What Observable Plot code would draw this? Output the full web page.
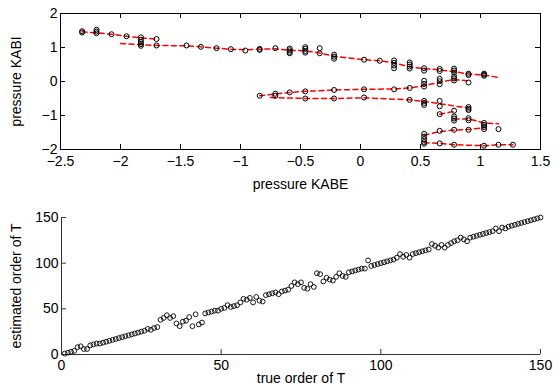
<!DOCTYPE html>
<html><head><meta charset="utf-8">
<script src="https://cdn.jsdelivr.net/npm/d3@7"></script>
<script src="https://cdn.jsdelivr.net/npm/@observablehq/plot@0.6"></script>
<style>
body{margin:0;background:#fff;}
#chart{width:553px;height:384px;overflow:hidden;}
#chart svg{display:block;}
</style>
</head><body><div id="chart"></div>
<script>
// ---------- top panel data ----------
const topXTicks = [-2.5, -2, -1.5, -1, -0.5, 0, 0.5, 1, 1.5];
const topYTicks = [-2, -1, 0, 1, 2];
const lineA = [[-2.32,1.46],[-2.20,1.43],[-2.075,1.39],[-1.95,1.33],[-1.83,1.28],[-1.70,1.25]];
const lineB = [[-2.0,1.12],[-1.83,1.08],[-1.70,1.06],[-1.45,1.05],[-1.33,1.02],[-1.20,0.98],[-1.08,0.95],[-0.96,0.93],[-0.84,0.95],[-0.71,0.96],[-0.59,0.92],[-0.46,0.90],[-0.34,0.84],[-0.22,0.74],[0.03,0.64],[0.16,0.61],[0.28,0.55],[0.41,0.43],[0.53,0.38],[0.66,0.34],[0.78,0.29],[0.90,0.22],[1.03,0.19],[1.15,0.12]];
const lineC = [[-0.84,-0.42],[-0.71,-0.37],[-0.59,-0.32],[-0.46,-0.29],[-0.22,-0.25],[0.03,-0.23],[0.28,-0.22],[0.41,-0.19],[0.53,-0.12],[0.66,-0.02],[0.78,0.06],[0.90,0.02]];
const lineD = [[-0.75,-0.47],[-0.46,-0.50],[-0.22,-0.50],[0.03,-0.48],[0.41,-0.54],[0.53,-0.59],[0.66,-0.65],[0.78,-0.72],[0.90,-0.78]];
const lineE = [[0.66,-0.96],[0.78,-0.88]];
const lineF = [[0.78,-1.10],[0.90,-1.10],[1.03,-1.22],[1.15,-1.24]];
const lineG = [[0.53,-1.58],[0.66,-1.47],[0.78,-1.43],[0.90,-1.41],[1.03,-1.36]];
const lineH = [[0.53,-1.80],[0.66,-1.82],[0.78,-1.86],[1.03,-1.89],[1.15,-1.86],[1.27,-1.86]];
const topLines = [lineA, lineB, lineC, lineD, lineE, lineF, lineG, lineH];
const topCircles = [
  [-2.32,1.48],[-2.32,1.44],
  [-2.20,1.52],[-2.20,1.47],[-2.20,1.42],
  [-2.075,1.39],[-1.95,1.33],
  [-1.83,1.30],[-1.83,1.23],[-1.83,1.16],[-1.83,1.10],[-1.83,1.05],
  [-1.70,1.25],[-1.70,1.06],
  [-1.45,1.06],[-1.33,1.02],[-1.20,0.98],[-1.08,0.95],[-0.96,0.91],
  [-0.84,0.96],[-0.84,0.93],[-0.84,-0.42],
  [-0.71,0.98],[-0.71,-0.36],[-0.71,-0.42],
  [-0.59,0.97],[-0.59,0.92],[-0.59,0.87],[-0.59,0.83],[-0.59,-0.32],
  [-0.46,1.01],[-0.46,0.96],[-0.46,0.90],[-0.46,0.85],[-0.46,-0.29],[-0.46,-0.50],
  [-0.34,0.98],[-0.34,0.83],
  [-0.22,0.79],[-0.22,0.73],[-0.22,0.67],[-0.22,-0.25],[-0.22,-0.50],
  [0.03,0.64],[0.03,-0.23],[0.03,-0.47],
  [0.16,0.61],
  [0.28,0.62],[0.28,0.55],[0.28,0.47],[0.28,0.39],[0.28,-0.23],
  [0.41,0.56],[0.41,0.50],[0.41,0.44],[0.41,0.38],[0.41,-0.19],[0.41,-0.54],
  [0.53,0.39],[0.53,0.32],[0.53,0.02],[0.53,-0.07],[0.53,-0.15],[0.53,-0.57],[0.53,-0.63],[0.53,-0.69],[0.53,-1.54],[0.53,-1.62],[0.53,-1.70],[0.53,-1.78],[0.53,-1.83],
  [0.66,0.37],[0.66,0.31],[0.66,0.08],[0.66,0.01],[0.66,-0.08],[0.66,-0.57],[0.66,-0.73],[0.66,-0.96],[0.66,-1.45],[0.66,-1.82],
  [0.78,0.38],[0.78,0.32],[0.78,0.26],[0.78,0.15],[0.78,0.09],[0.78,0.03],[0.78,-0.86],[0.78,-1.03],[0.78,-1.09],[0.78,-1.15],[0.78,-1.42],[0.78,-1.86],
  [0.90,0.23],[0.90,0.19],[0.90,-0.03],[0.90,-0.75],[0.90,-0.80],[0.90,-0.84],[0.90,-1.08],[0.90,-1.14],[0.90,-1.42],
  [1.03,0.23],[1.03,0.20],[1.03,0.17],[1.03,-1.22],[1.03,-1.28],[1.03,-1.34],[1.03,-1.40],[1.03,-1.89],
  [1.15,-1.40],[1.15,-1.86],
  [1.27,-1.86]
];

// ---------- bottom panel data ----------
const botTicks = [0, 50, 100, 150];
const estOrder = [
  1,2,3,4,8,9,6,6,10,11,
  12,12,13,14,15,16,17,18,19,20,
  21,22,23,24,25,26,28,27,29,30,
  38,40,43,40,42,34,31,36,37,41,
  31,44,33,35,45,46,47,48,48,50,
  51,54,52,53,54,57,61,60,62,57,
  63,59,58,65,66,67,68,66,69,70,
  71,75,79,77,79,73,72,77,74,89,
  88,80,84,82,81,85,89,86,85,90,
  91,92,93,94,94,103,97,98,99,100,
  101,102,103,104,106,110,107,109,106,110,
  111,112,113,114,115,121,119,117,120,117,
  120,122,124,125,128,126,124,128,129,130,
  131,132,133,134,135,138,135,139,138,140,
  141,142,143,144,145,146,147,148,149,150
];
const botPoints = estOrder.map((v, i) => ({t: i + 1, e: v}));

const font = {fontFamily: "'Liberation Sans', Arial, Helvetica, sans-serif", fontSize: "14px", background: "#fff", color: "#000"};
const fmt = d3.format("");

const topW = 553, topH = 192;
const tML = 60, tMR = 13, tMT = 13, tMB = 43;
const tFW = topW - tML - tMR, tFH = topH - tMT - tMB;
const tickLen = 5;

const topPlot = Plot.plot({
  width: topW, height: topH,
  marginLeft: tML, marginRight: tMR, marginTop: tMT, marginBottom: tMB,
  style: font,
  x: {domain: [-2.5, 1.5]},
  y: {domain: [-2, 2]},
  marks: [
    Plot.axisX({ticks: topXTicks, tickSize: 0, tickPadding: 7, tickFormat: fmt, label: null}),
    Plot.axisY({ticks: topYTicks, tickSize: 0, tickPadding: 3, tickFormat: fmt, label: null}),
    Plot.tickX(topXTicks, {x: d => d, insetTop: tFH - tickLen, stroke: "#000"}),
    Plot.tickX(topXTicks, {x: d => d, insetBottom: tFH - tickLen, stroke: "#000"}),
    Plot.tickY(topYTicks, {y: d => d, insetRight: tFW - tickLen, stroke: "#000"}),
    Plot.tickY(topYTicks, {y: d => d, insetLeft: tFW - tickLen, stroke: "#000"}),
    ...topLines.map(l => Plot.line(l, {x: d => d[0], y: d => d[1], stroke: "#ff0000", strokeWidth: 1.5, strokeDasharray: "5,3.5"})),
    Plot.dot(topCircles, {x: d => d[0], y: d => d[1], r: 2.5, stroke: "#000", strokeWidth: 1, fill: "none"}),
    Plot.frame({stroke: "#000", strokeWidth: 1}),
    Plot.text(["pressure KABE"], {frameAnchor: "bottom", dy: 35.5, lineAnchor: "middle", textAnchor: "middle", text: d => d}),
    Plot.text(["pressure KABI"], {frameAnchor: "left", dx: -44, rotate: -90, lineAnchor: "middle", textAnchor: "middle", text: d => d})
  ]
});

const botW = 553, botH = 192;
const bML = 61, bMR = 13, bMT = 25, bMB = 30;
const bFW = botW - bML - bMR, bFH = botH - bMT - bMB;

const botPlot = Plot.plot({
  width: botW, height: botH,
  marginLeft: bML, marginRight: bMR, marginTop: bMT, marginBottom: bMB,
  style: font,
  x: {domain: [0, 150]},
  y: {domain: [0, 150]},
  marks: [
    Plot.axisX({ticks: botTicks, tickSize: 0, tickPadding: 6, tickFormat: fmt, label: null}),
    Plot.axisY({ticks: botTicks, tickSize: 0, tickPadding: 3, tickFormat: fmt, label: null}),
    Plot.tickX(botTicks, {x: d => d, insetTop: bFH - tickLen, stroke: "#333"}),
    Plot.tickY(botTicks, {y: d => d, insetRight: bFW - tickLen, stroke: "#333"}),
    Plot.ruleX([0], {stroke: "#333"}),
    Plot.ruleY([0], {stroke: "#333"}),
    Plot.dot(botPoints, {x: "t", y: "e", r: 2.4, stroke: "#000", strokeWidth: 0.9, fill: "none"}),
    Plot.text(["true order of T"], {frameAnchor: "bottom", dy: 24, lineAnchor: "middle", textAnchor: "middle", text: d => d}),
    Plot.text(["estimated order of T"], {frameAnchor: "left", dx: -45, rotate: -90, lineAnchor: "middle", textAnchor: "middle", text: d => d})
  ]
});

const chart = document.getElementById("chart");
chart.appendChild(topPlot);
chart.appendChild(botPlot);
</script>
</body></html>
